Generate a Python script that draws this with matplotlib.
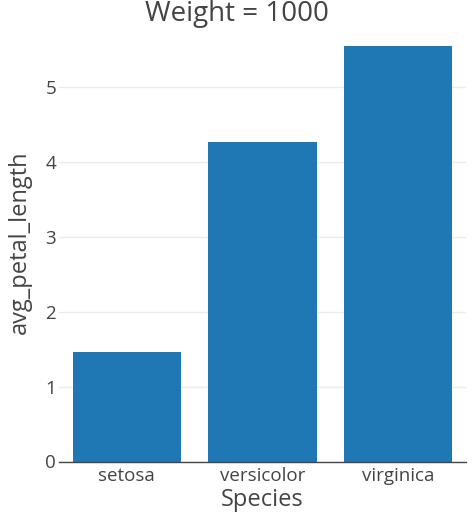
import matplotlib
matplotlib.use("Agg")
import matplotlib.pyplot as plt

species = ["setosa", "versicolor", "virginica"]
avg_petal_length = [1.462, 4.26, 5.552]
y_ticks = [0, 1, 2, 3, 4, 5]
title = "Weight = 1000"

plt.rcParams['font.family'] = ['Open Sans', 'DejaVu Sans']
TXT = '#444444'

fig = plt.figure(figsize=(4.74, 5.13), dpi=100)
ax = fig.add_axes([59/474, 1-461.5/513, (466-59)/474, (461.5-24)/513])

x = list(range(len(species)))
ax.bar(x, avg_petal_length, width=0.8, color='#1f77b4', zorder=3)
ax.set_xlim(-0.5, 2.5)
ax.set_ylim(0, 5.84)
ax.set_yticks(y_ticks)
ax.set_yticklabels([str(t) for t in y_ticks])
ax.set_xticks(x)
ax.set_xticklabels(species)
ax.grid(axis='y', color='#ebebeb', linewidth=1, zorder=0)
for s in ['top', 'right', 'left']:
    ax.spines[s].set_visible(False)
ax.spines['bottom'].set_color(TXT)
ax.spines['bottom'].set_linewidth(1)
ax.spines['bottom'].set_zorder(4)
ax.tick_params(axis='both', length=0, labelsize=13.5, colors=TXT)
ax.tick_params(axis='y', pad=2)
ax.tick_params(axis='x', pad=4)
ax.set_xlabel("Species", fontsize=17, color=TXT, labelpad=2)
ax.set_ylabel("avg_petal_length", fontsize=17, color=TXT, labelpad=10)
fig.text(0.5, 1-14/513, title, ha='center', va='center', fontsize=20, color=TXT)

fig.savefig("out.png", dpi=100, facecolor='white')
